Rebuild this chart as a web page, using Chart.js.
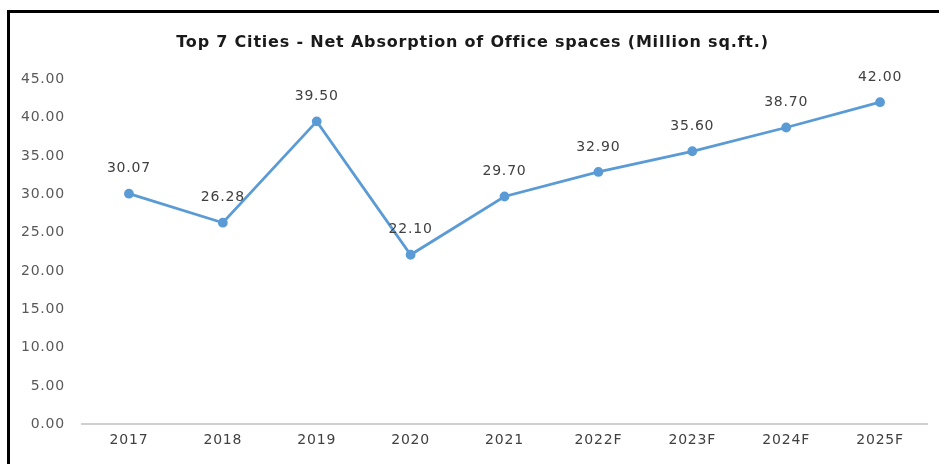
<!DOCTYPE html>
<html>
<head>
<meta charset="utf-8">
<script src="https://cdn.jsdelivr.net/npm/chart.js@4/dist/chart.umd.min.js"></script>
<style>
  html, body { margin: 0; padding: 0; background: #fff; width: 939px; height: 464px; overflow: hidden; }
  #frame { position: absolute; left: 7px; top: 10px; width: 940px; height: 470px; border-left: 3px solid #000; border-top: 3px solid #000; box-sizing: border-box; }
  #wrap { position: absolute; left: 0; top: 0; width: 939px; height: 464px; }
</style>
</head>
<body>
<div id="frame"></div>
<div id="wrap"><canvas id="c" width="939" height="464"></canvas></div>
<script>
const categories = ["2017", "2018", "2019", "2020", "2021", "2022F", "2023F", "2024F", "2025F"];
const absorption = [30.07, 26.28, 39.50, 22.10, 29.70, 32.90, 35.60, 38.70, 42.00];
const yTicks = [0, 5, 10, 15, 20, 25, 30, 35, 40, 45];
const titleText = "Top 7 Cities - Net Absorption of Office spaces (Million sq.ft.)";

const FONT = "'DejaVu Sans', sans-serif";
const SPACING = '0.8px';

const spacingPlugin = {
  id: 'spacing',
  beforeInit(chart) { chart.ctx.letterSpacing = SPACING; },
  beforeLayout(chart) { chart.ctx.letterSpacing = SPACING; },
  beforeDraw(chart) { chart.ctx.letterSpacing = SPACING; }
};

const labelPlugin = {
  id: 'pointLabels',
  afterDatasetsDraw(chart) {
    const ctx = chart.ctx;
    const meta = chart.getDatasetMeta(0);
    ctx.save();
    ctx.font = "14px " + FONT;
    ctx.letterSpacing = SPACING;
    ctx.fillStyle = "#404040";
    ctx.textAlign = "center";
    ctx.textBaseline = "middle";
    meta.data.forEach((pt, i) => {
      ctx.fillText(absorption[i].toFixed(2), pt.x, pt.y - 25);
    });
    ctx.restore();
  }
};

new Chart(document.getElementById('c'), {
  type: 'line',
  data: {
    labels: categories,
    datasets: [{
      data: absorption,
      borderColor: '#5B9BD5',
      backgroundColor: '#5B9BD5',
      borderWidth: 2.8,
      pointRadius: 3.5,
      pointBackgroundColor: '#5B9BD5',
      pointBorderColor: '#5B9BD5',
      tension: 0,
      clip: false
    }]
  },
  options: {
    responsive: false,
    animation: false,
    devicePixelRatio: 1,
    layout: { padding: { left: 18, right: 12, top: 24, bottom: 7 } },
    plugins: {
      legend: { display: false },
      tooltip: { enabled: false },
      title: {
        display: true,
        text: titleText,
        color: '#1a1a1a',
        font: { family: FONT, size: 16, weight: 'bold' },
        padding: { top: 9, bottom: 27 }
      }
    },
    scales: {
      x: {
        offset: true,
        grid: { display: false, drawTicks: false },
        border: { display: true, color: '#cfcfcf', width: 2 },
        ticks: { color: '#404040', font: { family: FONT, size: 14 }, padding: 8, maxRotation: 0 }
      },
      y: {
        min: 0,
        max: 45,
        afterFit(scale) { scale.width = 64; },
        afterBuildTicks(scale) { scale.ticks = yTicks.map(v => ({ value: v })); },
        grid: { display: false, drawTicks: false },
        border: { display: false },
        ticks: {
          color: '#595959',
          font: { family: FONT, size: 14 },
          padding: 17,
          callback: v => Number(v).toFixed(2)
        }
      }
    }
  },
  plugins: [spacingPlugin, labelPlugin]
});
</script>
</body>
</html>
